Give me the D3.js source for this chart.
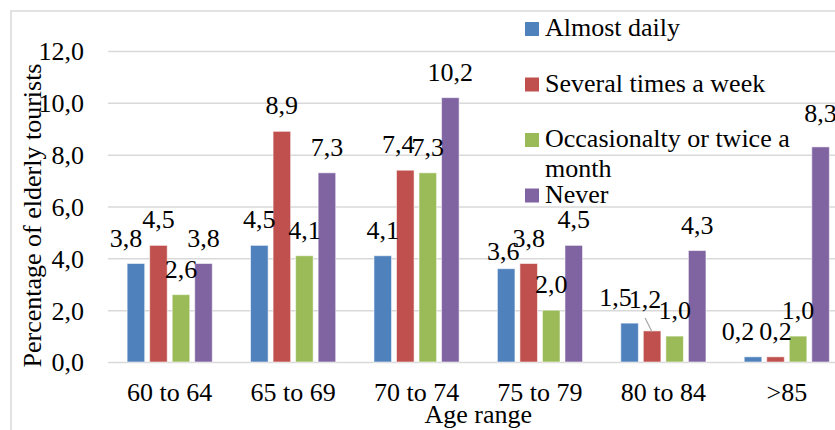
<!DOCTYPE html>
<html>
<head>
<meta charset="utf-8">
<script src="https://cdn.jsdelivr.net/npm/d3@7"></script>
<style>
  html, body { margin: 0; padding: 0; background: #fff; }
  svg { display: block; }
  text { font-family: "Liberation Serif", "Times New Roman", serif; fill: #000; }
</style>
</head>
<body>
<svg id="chart" width="835" height="430"></svg>
<script>
// ---- data ----
const categories = ["60 to 64", "65 to 69", "70 to 74", "75 to 79", "80 to 84", ">85"];
const seriesNames = ["Almost daily", "Several times a week", "Occasionalty or twice a month", "Never"];
const almostDaily = [3.8, 4.5, 4.1, 3.6, 1.5, 0.2];
const severalTimes = [4.5, 8.9, 7.4, 3.8, 1.2, 0.2];
const occasionally = [2.6, 4.1, 7.3, 2.0, 1.0, 1.0];
const never = [3.8, 7.3, 10.2, 4.5, 4.3, 8.3];
const yTicks = [0, 2, 4, 6, 8, 10, 12];
const yTitle = "Percentage of elderly tourists";
const xTitle = "Age range";

// ---- styling / layout ----
const seriesValues = [almostDaily, severalTimes, occasionally, never];
const colors = ["#4F81BD", "#C0504D", "#9BBB59", "#8064A2"];
const FS = 26;
const plot = { left: 108, right: 848.5, top: 51, bottom: 362 };
// label nudges (Excel-style overlap avoidance), keyed "category|series"
const labelNudge = {
  "0|0": [-10, 0],
  "2|1": [-7, 0],
  "3|0": [-3, 8],
  "4|0": [-14, 0],
  "4|1": [-7, -6],
  "5|0": [-15, 0],
  "5|3": [0, -8]
};
const leaderLines = ["4|1"];

const svg = d3.select("#chart");

// outer border
svg.append("rect")
  .attr("x", 11).attr("y", 11).attr("width", 840).attr("height", 430)
  .attr("fill", "none").attr("stroke", "#d9d9d9").attr("stroke-width", 1.5);

const x0 = d3.scaleBand().domain(categories)
  .range([plot.left, plot.right]).paddingInner(0.31).paddingOuter(0.155);
const x1 = d3.scaleBand().domain(d3.range(seriesNames.length))
  .range([0, x0.bandwidth()]).paddingInner(0.22).paddingOuter(0);
const y = d3.scaleLinear().domain([0, 12]).range([plot.bottom, plot.top]);
const fmt = v => v.toFixed(1).replace(".", ",");

// y axis with gridlines
const yAxis = svg.append("g")
  .attr("transform", `translate(${plot.left},0)`)
  .call(d3.axisLeft(y).tickValues(yTicks).tickFormat(fmt)
    .tickSizeInner(-(835 - plot.left)).tickSizeOuter(0).tickPadding(24));
yAxis.select(".domain").remove();
yAxis.selectAll(".tick line").attr("stroke", "#d9d9d9").attr("stroke-width", 1.5);
yAxis.selectAll(".tick text").attr("font-size", FS)
  .style("font-family", '"Liberation Serif", "Times New Roman", serif').attr("fill", "#000")
  .attr("dy", "0.34em");

// x axis labels
const xAxis = svg.append("g")
  .attr("transform", `translate(0,${plot.bottom})`)
  .call(d3.axisBottom(x0).tickSize(0).tickPadding(21));
xAxis.select(".domain").remove();
xAxis.selectAll(".tick text").attr("font-size", FS)
  .style("font-family", '"Liberation Serif", "Times New Roman", serif').attr("fill", "#000");

// bars
const flat = [];
categories.forEach((c, ci) => {
  seriesValues.forEach((arr, si) => flat.push({ c, ci, si, v: arr[ci] }));
});

svg.append("g").selectAll("rect").data(flat).join("rect")
  .attr("x", d => x0(d.c) + x1(d.si))
  .attr("y", d => y(d.v))
  .attr("width", x1.bandwidth())
  .attr("height", d => y(0) - y(d.v))
  .attr("fill", d => colors[d.si])
  .attr("stroke", "#ffffff").attr("stroke-opacity", 0.55).attr("stroke-width", 1);

// data labels
const labelPos = d => {
  const n = labelNudge[d.ci + "|" + d.si] || [0, 0];
  return {
    x: x0(d.c) + x1(d.si) + x1.bandwidth() / 2 + n[0],
    y: y(d.v) - 17 + n[1]
  };
};
const lblG = svg.append("g");
lblG.selectAll("line").data(flat.filter(d => leaderLines.includes(d.ci + "|" + d.si))).join("line")
  .attr("x1", d => labelPos(d).x)
  .attr("y1", d => labelPos(d).y + 10)
  .attr("x2", d => x0(d.c) + x1(d.si) + x1.bandwidth() / 2)
  .attr("y2", d => y(d.v) + 1)
  .attr("stroke", "#a6a6a6").attr("stroke-width", 1.2);
lblG.selectAll("text").data(flat).join("text")
  .attr("x", d => labelPos(d).x)
  .attr("y", d => labelPos(d).y)
  .attr("text-anchor", "middle")
  .attr("font-size", FS)
  .text(d => fmt(d.v));

// axis titles
svg.append("text")
  .attr("transform", `translate(41,${(plot.top + plot.bottom) / 2 + 9}) rotate(-90)`)
  .attr("text-anchor", "middle").attr("font-size", FS).text(yTitle);
svg.append("text")
  .attr("x", (plot.left + plot.right) / 2).attr("y", 423)
  .attr("text-anchor", "middle").attr("font-size", FS).text(xTitle);

// legend
const legend = svg.append("g");
const legendLines = [["Almost daily"], ["Several times a week"], ["Occasionalty or twice a", "month"], ["Never"]];
seriesNames.forEach((name, i) => {
  const base = 36 + i * 55.5;
  legend.append("rect")
    .attr("x", 525).attr("y", base - 14).attr("width", 14).attr("height", 14)
    .attr("fill", colors[i]);
  const t = legend.append("text").attr("x", 545).attr("y", base).attr("font-size", FS);
  legendLines[i].forEach((ln, k) => {
    t.append("tspan").attr("x", 545).attr("dy", k === 0 ? 0 : 30).text(ln);
  });
});
</script>
</body>
</html>
